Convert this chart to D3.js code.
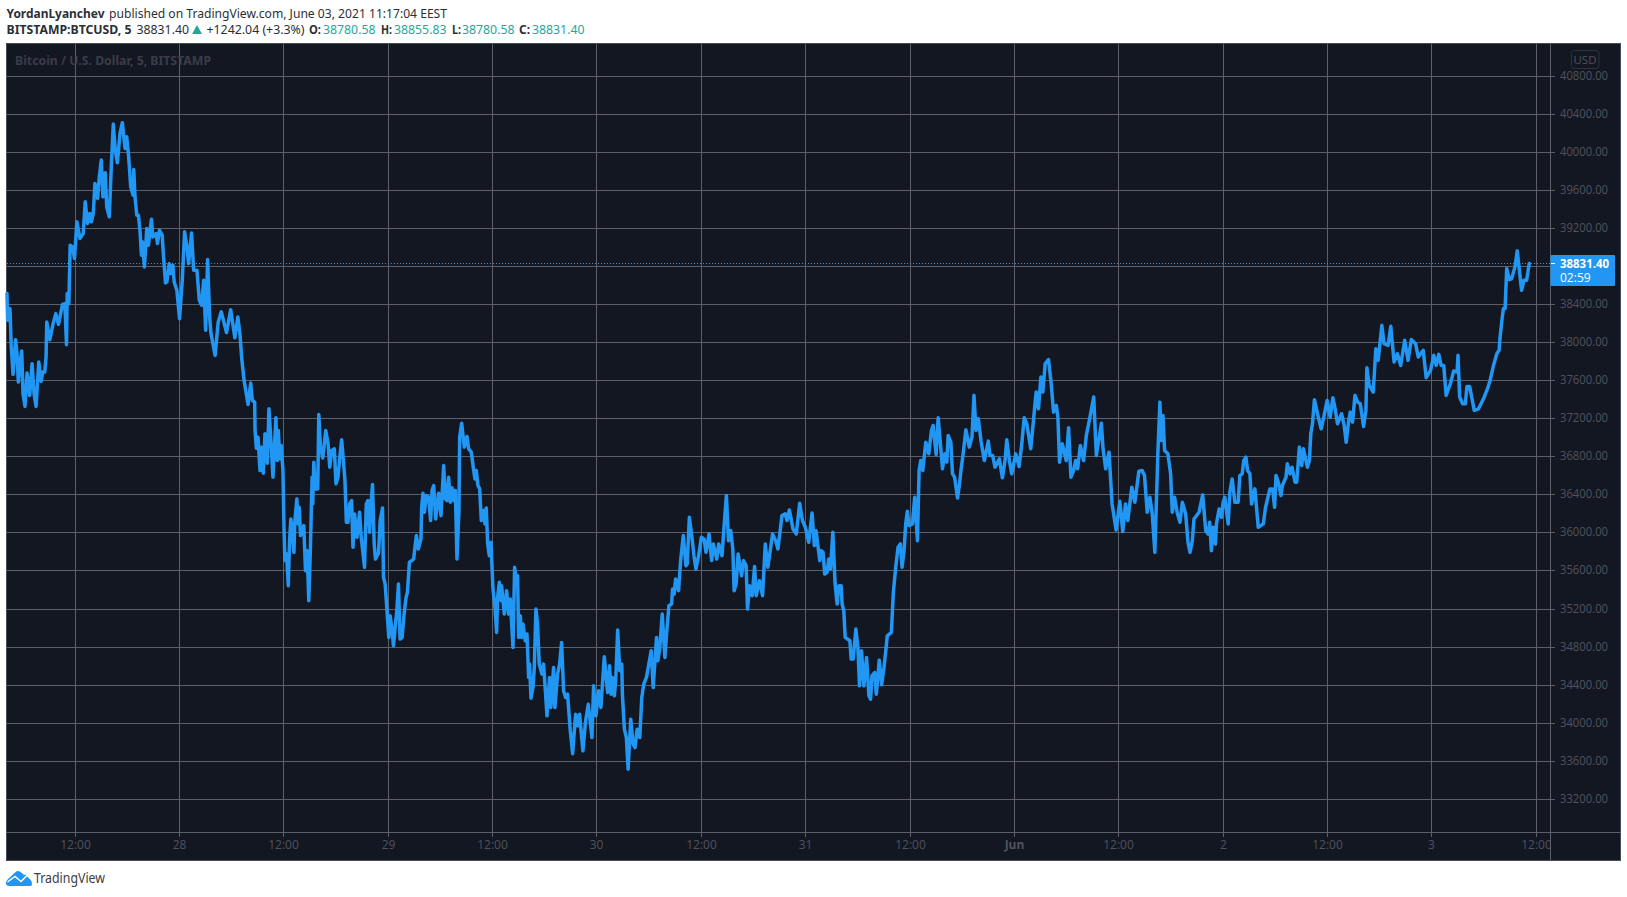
<!DOCTYPE html>
<html><head><meta charset="utf-8">
<style>html,body{margin:0;padding:0;background:#fff}svg{display:block}</style>
<script src="https://d3js.org/d3.v7.min.js"></script></head>
<body><div id="c"></div>
<script>
// hours since 27 May 00:00
const hours=[4.15,4.23,4.5,4.65,4.85,5.15,5.31,5.46,5.65,5.85,6,6.23,6.46,6.77,7.04,7.27,7.5,7.81,8.08,8.27,8.5,8.65,8.73,9.08,9.46,9.77,10.08,10.54,10.81,11,11.08,11.27,11.42,11.69,11.92,12.19,12.54,12.92,13.15,13.42,13.69,13.85,14.08,14.27,14.58,14.77,15,15.19,15.46,15.62,15.92,16.15,16.38,16.62,16.85,17.15,17.42,17.73,17.92,18.15,18.38,18.65,18.73,18.88,19.08,19.27,19.46,19.62,19.73,19.96,20.23,20.42,20.77,20.92,21.31,21.46,21.69,22,22.15,22.38,22.54,22.81,23,23.23,23.38,23.69,24,24.31,24.58,24.85,25.04,25.38,25.62,26,26.27,26.54,26.77,27,27.23,27.46,27.6,28.09,28.44,28.8,29.4,29.88,30.36,30.7,30.95,31.15,31.42,31.88,32.18,32.37,32.64,32.68,32.83,33.02,33.25,33.44,33.63,33.82,34.09,34.28,34.55,34.74,35.08,35.24,35.35,35.54,35.69,35.89,36,36.11,36.31,36.5,36.65,36.8,37.15,37.26,37.49,37.64,37.76,37.91,38.29,38.48,38.67,38.86,39.05,39.24,39.32,39.44,39.59,39.89,40.01,40.2,40.47,40.81,41.08,41.27,41.5,41.8,41.99,42.22,42.41,42.64,42.87,43.02,43.18,43.37,43.56,43.79,43.94,44.13,44.4,44.7,44.89,45.27,45.47,45.66,45.85,46.04,46.19,46.38,46.53,46.88,47.07,47.34,47.45,47.64,47.83,48.06,48.21,48.4,48.6,48.79,48.98,49.17,49.36,49.59,49.82,50.05,50.2,50.43,
50.61,50.92,51.07,51.23,51.46,51.76,51.84,51.99,52.15,52.38,52.64,52.87,53.03,53.22,53.45,53.79,54.06,54.37,54.56,54.75,54.94,55.13,55.33,55.52,55.71,55.9,56.13,56.21,56.44,56.74,57.05,57.24,57.55,57.82,57.97,58.12,58.31,58.51,58.7,58.97,59.12,59.27,59.43,59.62,59.81,60.04,60.27,60.46,60.57,60.77,60.96,61.03,61.34,61.61,61.84,62.03,62.34,62.53,62.72,62.87,62.99,63.18,63.33,63.49,63.75,63.95,64.14,64.25,64.41,64.64,64.79,64.98,65.17,65.36,65.67,65.86,66.09,66.25,66.55,66.7,67.01,67.16,67.47,67.7,67.93,68.16,68.39,68.62,68.93,69.2,69.54,69.81,70,70.38,70.69,71,71.42,71.61,71.88,72.18,72.45,72.84,73.22,73.45,
73.62,73.77,74,74.15,74.38,74.62,74.85,74.92,75.15,75.38,75.58,75.88,76.15,76.38,76.62,76.92,77.15,77.38,77.69,78.23,78.46,78.85,79,79.23,79.5,79.81,80,80.27,80.58,80.69,80.88,81.04,81.38,81.62,81.92,82.23,82.38,82.62,82.92,83.15,83.38,83.69,84,84.31,84.54,84.88,85.19,85.38,85.77,86,86.38,86.62,86.88,87.12,87.38,87.62,87.77,88,88.23,88.62,88.85,89.15,89.31,89.54,89.85,90.12,90.31,90.69,91.04,91.35,91.65,91.92,92.19,92.54,92.81,93.27,93.65,93.85,94.12,94.54,94.92,95.31,95.62,95.96,96.35,
96.73,97,97.19,97.38,97.62,97.77,98,98.19,98.46,98.65,98.85,99.12,99.38,99.62,99.81,100.08,100.19,100.38,100.54,101.08,101.23,101.46,101.77,102,102.19,102.42,102.69,103,103.27,103.46,103.62,103.92,104.12,104.46,104.73,105,105.19,105.38,105.85,106.08,106.35,106.62,106.88,107.08,107.31,107.5,107.69,107.88,108.27,108.54,108.85,109.04,109.23,109.46,109.81,110.15,110.46,110.65,111,111.23,111.46,111.73,112,112.23,112.38,112.69,112.88,113.12,113.46,113.69,113.85,114.08,114.42,114.81,115.12,115.35,115.58,115.85,116.15,116.54,117,117.19,117.5,117.77,118.27,118.62,118.92,119.12,119.42,
119.69,120.15,120.54,120.85,121.12,121.42,121.88,122.19,122.5,122.77,123.04,123.27,123.54,123.92,124.23,124.5,124.81,125,125.19,125.5,125.96,126.23,126.5,126.81,127.04,127.27,127.58,127.96,128.27,128.54,129.12,129.42,130,130.19,130.5,130.88,131.23,131.69,132.12,132.46,132.77,133.04,133.5,133.85,134.31,134.69,134.96,135.27,135.58,135.85,136.15,136.5,136.73,136.88,137.08,137.27,137.65,137.96,138.15,138.42,138.73,139.04,139.31,139.69,139.96,140.19,140.46,140.65,141.23,141.65,142,142.27,142.46,
142.65,142.85,143.12,143.23,143.54,143.81,144,144.19,144.58,144.77,145.04,145.35,145.73,145.92,146.19,146.38,146.62,146.81,147.08,147.27,147.65,148.04,148.62,148.88,149.38,149.69,149.92,150.08,150.35,150.65,150.81,151.23,151.38,151.69,151.92,152.27,152.46,152.77,153.04,153.23,153.69,153.92,154.08,154.27,154.5,154.85,155.27,155.62,155.96,156.31,156.62,156.88,157.15,157.62,157.92,158.15,158.42,158.62,158.88,
159.16,159.47,159.77,160.15,160.42,160.53,160.8,161.26,161.56,161.83,162.25,162.51,162.97,163.28,163.66,164.04,164.42,164.88,165.26,165.64,166.13,166.44,167.01,167.35,167.85,168.23,168.5,168.8,169.07,169.37,169.64,170.13,170.51,170.9,171.01,171.2,171.54,171.85,172.04,172.34,172.88,173.37,173.94,174.4,174.7,175.09,175.47,175.73,175.85,176.08,176.23,176.42,176.61,176.91,177.18,177.56,177.82,178.32,178.59,178.9,179.2];
const prices=[38516,38235,38358,37954,37667,38031,37884,37586,37779,37912,37463,37330,37681,37445,37779,37463,37330,37796,37593,37691,37691,37849,38217,38031,38200,38305,38193,38403,38410,37979,38516,38410,39024,39007,38884,39270,39095,39147,39481,39253,39358,39270,39358,39674,39516,39744,39919,39533,39786,39428,39323,39849,40298,40007,39891,40200,40312,40042,40165,39954,39639,39551,39821,39533,39340,39340,39165,38919,39060,38796,39200,39024,39298,39112,39147,39042,39182,39130,38919,38628,38638,38831,38726,38814,38638,38551,38252,38656,39165,39007,38831,39154,38761,38761,38446,38393,38656,38130,38874,38270,38106,37866,38215,38324,38106,38345,38051,38269,38084,37833,37604,37351,37575,37393,37375,37077,36891,37007,36656,36902,36628,37042,36733,37305,36902,36586,37211,36761,37077,36779,36919,36656,36095,35709,35779,35446,35919,36147,35796,36130,36358,36095,36270,35972,36077,35603,35814,35288,35849,36586,36305,36744,36463,36463,37246,36902,36789,37077,36937,36691,36867,36884,36516,36586,36779,36979,36726,36551,36112,36112,36305,36340,35849,36200,35954,36217,35954,35638,36305,36340,36007,36340,36509,35884,35726,35789,36130,36263,35533,35463,35217,34902,35130,35007,34814,35007,35182,35463,34884,34902,35147,35323,35375,35691,
35702,35726,35849,35972,35832,35937,36270,36417,36217,36393,36375,36130,36446,36498,36147,36417,36182,36709,36358,36340,36586,36323,36474,36340,36446,35726,36235,37007,37154,36902,37014,36884,36849,36656,36568,36656,36498,36463,36130,36235,36095,36263,35884,35761,35902,35410,35217,34954,35323,35481,35288,35446,35147,35393,35147,35305,34796,35638,35498,35551,34902,35130,34902,35042,34867,34937,34481,34621,34263,34375,34586,35200,35042,34621,34516,34621,34305,34077,34481,34165,34586,34165,34516,34621,34849,34340,34270,34305,33919,33680,34095,33972,34095,33709,34024,34200,33849,34393,34077,34340,34165,34698,34323,34603,
34305,34481,34288,34446,34979,34551,34621,34305,33937,33849,33516,34042,33779,33744,33937,33849,34270,34410,34481,34761,34375,34902,34656,34796,35147,34691,34937,35235,35253,35410,35358,35516,35393,35709,35972,35656,35674,36165,35954,35761,35621,35761,35954,35937,35796,35989,35709,35884,35726,35884,35761,36077,36393,35919,36025,35832,35393,35463,35779,35551,35709,35656,35200,35446,35340,35646,35340,35498,35340,35884,35639,35814,35989,35919,35832,36182,36200,36130,36242,36042,35989,36312,36130,36060,35902,
36210,35867,36024,35884,35709,35814,35796,35568,35586,35726,35621,36007,35463,35252,35446,35446,35252,35182,34902,34867,34674,34674,34989,34796,34393,34761,34393,34691,34288,34252,34498,34533,34305,34663,34403,34586,34744,34919,34954,35375,35638,35849,35884,35638,35814,36095,36228,36077,36095,36375,35919,36656,36761,36656,36954,36832,37077,37130,36825,37211,36972,36674,36832,36744,37025,36954,36621,36586,36368,36516,36656,36814,37084,36902,37007,37446,37077,37200,36972,36761,36965,36814,36814,36691,36779,36579,36761,36979,36761,
36621,36831,36698,36937,37210,37147,36884,37182,37481,37305,37639,37481,37779,37821,37568,37270,37340,37218,36744,36937,36761,37105,36586,36656,36761,36674,36919,36761,37025,37147,37428,36814,37154,36884,36674,36849,36305,36031,36333,36014,36305,36130,36481,36323,36649,36656,36603,36217,36375,36200,35796,36849,37375,36972,37235,36867,36832,36621,36217,36375,36207,36112,36323,36200,35902,35796,35919,36147,36217,36400,36024,35989,36112,
35814,36059,35884,36095,36252,36165,36323,36375,36095,36428,36568,36323,36323,36603,36621,36761,36796,36656,36621,36305,36463,36059,36095,36270,36463,36463,36270,36603,36533,36393,36498,36586,36726,36621,36691,36533,36533,36902,36709,36884,36691,36761,37042,37147,37400,37253,37095,37235,37393,37217,37421,37305,37147,37253,37130,36954,37165,37270,37165,
37446,37375,37358,37119,37288,37737,37551,37481,37937,37814,38182,37989,37972,38172,37796,37884,37761,38025,37814,38032,37989,37849,37919,37632,37709,37867,37761,37877,37761,37761,37446,37568,37702,37691,37867,37428,37358,37358,37540,37540,37288,37305,37410,37516,37603,37761,37884,37919,38060,38253,38358,38358,38779,38663,38674,38796,38965,38551,38656,38656,38831.4];
const xTickHours=[12,24,36,48,60,72,84,96,108,120,132,144,156,168,180];
const xTickLabels=["12:00","28","12:00","29","12:00","30","12:00","31","12:00","Jun","12:00","2","12:00","3","12:00"];
const yTicks=[40800,40400,40000,39600,39200,38800,38400,38000,37600,37200,36800,36400,36000,35600,35200,34800,34400,34000,33600,33200];
const lastPrice=38831.40, countdown="02:59";

const W=1627,H=897;
const L=6,T=43,PR=1550,PB=832,R=1620,B=860;
const svg=d3.select("#c").append("svg").attr("width",W).attr("height",H).style("font-family","'Noto Sans',sans-serif");
svg.append("rect").attr("width",W).attr("height",H).attr("fill","#fff");
svg.append("rect").attr("x",L+.5).attr("y",T+.5).attr("width",R-L).attr("height",B-T).attr("fill","#131722").attr("stroke","#4a4d57");

const x=d3.scaleLinear().domain([12,180]).range([75.2,1536.2]);
const y=d3.scaleLinear().domain([33200,40800]).range([799.3,76.3]);
const floorI=(a,b)=>t=>Math.floor(a+(b-a)*t);
const xr=x.copy().interpolate(floorI), yr=y.copy().interpolate(floorI);
const gridCol="#5d606b", labCol="#50535e";

const grid=svg.append("g").attr("stroke",gridCol).attr("fill","none");
grid.selectAll(".h").data(yTicks).join("line").attr("x1",L+.5).attr("x2",PR).attr("y1",d=>yr(d)+.5).attr("y2",d=>yr(d)+.5);
grid.selectAll(".v").data(xTickHours).join("line").attr("y1",T+.5).attr("y2",PB).attr("x1",d=>xr(d)+.5).attr("x2",d=>xr(d)+.5);

// watermark
svg.append("text").attr("x",15).attr("y",64.5).attr("font-size",13).attr("font-weight",700).attr("fill","#3a3d48")
  .attr("textLength",196).attr("lengthAdjust","spacingAndGlyphs").text("Bitcoin / U.S. Dollar, 5, BITSTAMP");

// last price dotted
svg.append("line").attr("x1",L+1).attr("x2",PR).attr("y1",yr(lastPrice)+.5).attr("y2",yr(lastPrice)+.5)
  .attr("stroke","#2196f3").attr("stroke-dasharray","1 2");

// series
svg.append("path").datum(hours.map((h,i)=>[h,prices[i]])).attr("fill","none").attr("stroke","#2196f3").attr("stroke-width",3.5)
  .attr("stroke-linejoin","round").attr("stroke-linecap","round")
  .attr("d",d3.line().x(d=>x(d[0])).y(d=>y(d[1])));

// axis lines
svg.append("line").attr("x1",L+.5).attr("x2",R+.5).attr("y1",PB+.5).attr("y2",PB+.5).attr("stroke",gridCol);
svg.append("line").attr("x1",PR+.5).attr("x2",PR+.5).attr("y1",T+.5).attr("y2",B).attr("stroke",gridCol);

// axes
const xa=svg.append("g").attr("transform",`translate(0,${PB})`)
  .call(d3.axisBottom(xr).tickValues(xTickHours).tickSize(5).tickPadding(3).tickFormat((d,i)=>xTickLabels[i]));
const ya=svg.append("g").attr("transform",`translate(${PR},0)`)
  .call(d3.axisRight(yr).tickValues(yTicks).tickSize(5).tickPadding(5).tickFormat(d=>d===38800?"":d3.format(".2f")(d)));
[xa,ya].forEach(a=>{a.select(".domain").remove();a.selectAll("line").attr("stroke",gridCol);
  a.selectAll("text").attr("fill",labCol).attr("font-size",12).attr("font-family","'Open Sans',sans-serif");});
ya.selectAll("text").filter(d=>d!==38800).attr("textLength",48).attr("lengthAdjust","spacingAndGlyphs");
xa.selectAll("text").filter((d,i)=>xTickLabels[i]==="Jun").attr("font-weight",700);
// last x-label stops at the price axis
svg.append("rect").attr("x",PR+.5).attr("y",PB+1).attr("width",R-PR-1).attr("height",B-PB-1).attr("fill","#131722");
svg.append("line").attr("x1",PR+.5).attr("x2",PR+.5).attr("y1",PB).attr("y2",B).attr("stroke",gridCol);

// USD box
svg.append("rect").attr("x",1571.5).attr("y",50.5).attr("width",27.5).attr("height",18).attr("rx",3).attr("fill","none").attr("stroke","#2f323c");
svg.append("text").attr("x",1585).attr("y",63.5).attr("text-anchor","middle").attr("font-size",11.5).attr("fill",labCol).attr("font-family","'Open Sans',sans-serif").text("USD");

// price tag
svg.append("rect").attr("x",PR+.5).attr("y",255).attr("width",64.5).attr("height",31).attr("rx",1).attr("fill","#2196f3");
svg.append("line").attr("x1",PR+1).attr("x2",PR+5).attr("y1",yr(lastPrice)+.5).attr("y2",yr(lastPrice)+.5).attr("stroke","#fff");
svg.append("text").attr("x",1560).attr("y",268).attr("font-size",12).attr("font-weight",700).attr("fill","#fff").attr("font-family","'Open Sans',sans-serif")
  .attr("textLength",49).attr("lengthAdjust","spacingAndGlyphs").text(d3.format(".2f")(lastPrice));
svg.append("text").attr("x",1560).attr("y",282).attr("font-size",12).attr("fill","#fff").attr("font-family","'Open Sans',sans-serif").text(countdown);

// header
const hd=(t,xp,yp,len,o={})=>svg.append("text").attr("x",xp).attr("y",yp).attr("font-size",13).attr("font-weight",o.b?700:400).attr("fill",o.c||"#2b2f36")
  .attr("textLength",len).attr("lengthAdjust","spacingAndGlyphs").text(t);
hd("YordanLyanchev",6.5,17.5,98,{b:1});
hd("published on TradingView.com, June 03, 2021 11:17:04 EEST",109,17.5,338);
hd("BITSTAMP:BTCUSD, 5",6.5,33.5,125,{b:1});
hd("38831.40",136.5,33.5,52.5);
svg.append("path").attr("d","M192,34L197,25L202,34Z").attr("fill","#26a69a");
hd("+1242.04 (+3.3%)",206.5,33.5,98);
const teal="#26a69a";
[["O:",309,12,"38780.58",323],["H:",381,11,"38855.83",394],["L:",452,9,"38780.58",462],["C:",519,11,"38831.40",532]].forEach(r=>{
  hd(r[0],r[1],33.5,r[2],{b:1}); hd(r[3],r[4],33.5,52.5,{c:teal});
});

// logo
const logo=svg.append("g");
logo.append("path").attr("fill","#2196f3").attr("d","M6,883C6,880 10,877 17,871C20,871 22,873 24,875C26,874 28,875 29,878C31,880 32,882 32,884C32,885.5 31,886 30,886H9C7,886 6,885 6,883Z");
logo.append("path").attr("fill","none").attr("stroke","#fff").attr("stroke-width",1.4).attr("d","M7.5,882L15,876.5L21,881.5L27,875.5L31,879");
svg.append("text").attr("x",34).attr("y",883).attr("font-size",14).attr("fill","#3c4043").attr("textLength",71).attr("lengthAdjust","spacingAndGlyphs").text("TradingView");
</script></body></html>
